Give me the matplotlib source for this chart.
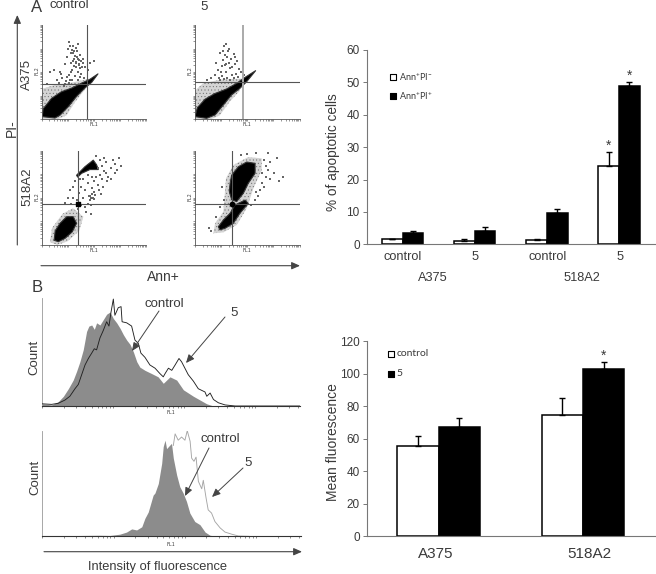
import numpy as np
import matplotlib
matplotlib.use('Agg')
from matplotlib import pyplot as plt
from matplotlib.patches import Polygon

plt.rcParams['font.family'] = ['Liberation Sans', 'DejaVu Sans']
plt.rcParams['mathtext.default'] = 'regular'
plt.rcParams['hatch.linewidth'] = 0.3

W, H = 656, 574
TEXT = '#3a3a3a'
AXIS = '#777777'

# bar charts
apop_groups = ['control', '5', 'control', '5']
apop_cells = ['A375', '518A2']
apop_early = [1.6, 1.0, 1.3, 24.2]
apop_early_err = [0.0, 0.6, 0.2, 4.3]
apop_late = [3.4, 4.0, 9.6, 49.0]
apop_late_err = [0.8, 1.3, 1.4, 1.0]
mean_cells = ['A375', '518A2']
mean_control = [55.5, 74.5]
mean_control_err = [6.5, 10.5]
mean_treated = [67.5, 103.0]
mean_treated_err = [5.0, 4.0]

# histograms, channel and count both in percent of the axes
top_ctrl_x = [0, 3.6, 6.2, 8.2, 10.1, 12, 13.3, 14.6, 15.9, 16.6, 17.2, 18.1, 19.2, 20.2, 21.1, 22.4, 23.7, 25,
              26.3, 27.6, 28.9, 30.2, 31.5, 32.8, 34.1, 35.4, 36.7, 37.9, 39.9, 42.5, 45, 47, 49.6, 52.2, 54.8,
              58.7, 63.9, 66.5, 100]
top_ctrl_y = [2, 1, 4, 9, 16, 24, 32, 41, 52, 61, 69, 74, 75, 71, 77, 75, 80, 85,
              87, 81, 77, 72, 66, 61, 57, 50, 41, 36, 33, 30, 27, 21, 27, 24, 15,
              9, 2, 0, 0]
top_treat_x = [0, 3.6, 6.2, 8.8, 10.7, 12.7, 14, 15.3, 16.6, 17.9, 19.2, 20.2, 21.1, 22.4, 23.7, 25, 25.9, 26.7,
               27.6, 28.2, 29.5, 30.6, 31, 32.8, 34.7, 36, 37.3, 38.3, 39.9, 41.8, 43.8, 45.7, 47, 47.7, 49, 50.3,
               51.6, 53.1, 54.1, 55.4, 56.7, 58.7, 60.6, 63.2, 63.9, 65.2, 66.5, 68.4, 71, 74.9, 100]
top_treat_y = [2, 1.5, 2.5, 5.5, 9, 16, 20, 29, 38, 44, 49, 53, 52, 63, 70, 78, 74, 87,
               99, 84, 91, 92, 78, 77, 74, 61, 58, 49, 45, 38, 35, 30, 27, 30, 35, 33,
               38, 44, 41, 35, 29, 23, 16, 13, 9, 12, 6, 3, 1, 0, 0]
low_ctrl_x = [0, 8, 15, 22, 26.2, 30, 32.6, 34.6, 36.5, 38.5, 39.7, 41, 42.3, 42.9, 43.6, 44.9, 46.2, 46.8, 47.5,
              48.1, 49.2, 50, 50.7, 52, 53.2, 54.5, 55.8, 57.1, 59, 61, 63, 64.9, 67.5, 100]
low_ctrl_y = [0, 0.5, 0.8, 1, 0.8, 2, 4, 7, 6, 9, 17, 23, 34, 39, 41, 50, 69, 85, 91,
              83, 86, 88, 74, 58, 47, 41, 33, 22, 14, 11, 4, 1, 0, 0]
low_treat_x = [50.7, 51.4, 52.6, 53.9, 55.2, 56.1, 57.2, 57.8, 58.7, 59.5, 60.4, 61.7, 62.3, 63.4, 64.2, 65.5,
               66.8, 68.8, 70.7, 73.3, 75.9, 80]
low_treat_y = [86, 97, 91, 94, 91, 100, 90, 74, 71, 75, 52, 45, 53, 36, 25, 22,
               14, 8, 4, 2, 0.3, 0]

# dot plots: outlines of the dense populations and the single events read by eye, percent of the axes
a375_ctrl_core = [(0.6, 2.5), (1.6, 11), (9.6, 22), (19, 29), (29, 33), (38, 38), (46, 42), (54, 48), (48, 39),
                  (41.5, 33), (33.5, 24), (25.5, 13), (17.6, 4), (12.8, 1)]
a375_ctrl_halo = [(0, 0), (0, 32), (12, 36), (30, 39), (46, 43), (42, 32), (32, 18), (24, 4), (16, 0)]
a375_ctrl_dots = [(18, 50), (22, 58), (24, 66), (26, 47), (28, 70), (30, 62), (31, 56), (32, 67), (33, 60), (34, 72),
                  (35, 64), (36, 58), (37, 68), (38, 62), (39, 55), (25, 74), (27, 78), (29, 52), (31, 64), (33, 76),
                  (35, 50), (37, 45), (40, 60), (42, 55), (20, 44), (23, 40), (26, 38), (29, 42), (32, 46), (35, 42),
                  (38, 48), (41, 44), (44, 52), (17, 38), (21, 35), (24, 45), (28, 60), (30, 70), (34, 66), (36, 57),
                  (26, 82), (29, 73), (33, 61), (37, 54), (40, 64), (15, 42), (19, 48), (8, 50), (12, 52), (5, 37),
                  (46, 60), (50, 62), (22, 37), (27, 41), (31, 72), (35, 80), (30, 78), (36, 63), (33, 55), (28, 50)]
a375_treat_core = [(0.3, 2.5), (2.5, 12), (9.8, 21), (19, 27), (30.5, 32), (40, 38), (48, 44.3), (58, 51.4),
                   (49.5, 39.7), (43, 32.6), (35, 25.5), (27.3, 14.9), (19.4, 4.3), (11.4, 0.7)]
a375_treat_halo = [(0, 0), (0, 30), (8, 38), (25, 42), (45, 43), (43, 30), (33, 18), (24, 4), (16, 0)]
a375_treat_dots = [(20, 60), (22, 52), (24, 70), (26, 46), (27, 63), (28, 78), (29, 57), (30, 50), (31, 66), (32, 72),
                   (33, 60), (34, 54), (35, 64), (36, 47), (37, 69), (38, 58), (39, 48), (40, 62), (42, 53), (30, 80),
                   (26, 56), (23, 44), (19, 47), (16, 44), (12, 42), (28, 43), (31, 44), (34, 42), (37, 44), (41, 45),
                   (44, 50), (47, 47), (25, 50), (29, 68), (33, 74), (27, 72), (36, 55), (38, 66), (30, 58), (24, 42)]
mel_ctrl_core = [(12, 5), (13, 15), (17.6, 23), (24, 30), (30.3, 30), (33.5, 23), (29.4, 14), (22.4, 7), (16, 3.5)]
mel_ctrl_halo = [(8, 3), (10, 18), (20, 33), (30, 39), (40, 30), (36, 15), (25, 4), (15, 0)]
mel_ctrl_spot = [(33.5, 74), (41.5, 83), (49.5, 90), (52.7, 85), (54.3, 80), (46.3, 80), (38.3, 76), (34.5, 72)]
mel_ctrl_dots = [(22, 45), (25, 50), (27, 58), (30, 62), (32, 68), (34, 48), (36, 55), (38, 62), (40, 50), (42, 58),
                 (44, 66), (46, 52), (48, 60), (50, 68), (52, 72), (54, 64), (56, 74), (58, 84), (60, 78), (62, 88),
                 (64, 72), (66, 82), (68, 90), (70, 86), (72, 80), (74, 92), (76, 84), (60, 92), (56, 90), (52, 94),
                 (48, 72), (50, 56), (44, 44), (47, 42), (42, 40), (38, 42), (35, 38), (45, 52), (49, 50), (50, 49),
                 (46, 48), (47, 50), (48, 54), (51, 53), (40, 70), (37, 70), (44, 74), (30, 50), (28, 44), (54, 82),
                 (58, 70), (62, 76), (66, 70), (70, 76), (55, 58), (59, 62), (63, 68), (57, 54), (43, 35), (47, 33)]
mel_treat_core = [(33.7, 65.4), (35.2, 74), (41.6, 83), (49.5, 88), (57.5, 86.6), (57.5, 76), (51, 65.4), (46.3, 54.8),
                  (40, 46), (35.2, 48), (33, 56.5)]
mel_treat_band = [(22.5, 19.4), (27.3, 26.5), (33.7, 33.6), (38.4, 42.4), (48, 47.7), (51, 44), (43, 33.6), (36.8, 23),
                  (28.9, 17.7), (24, 16)]
mel_treat_halo = [(17.8, 12.4), (19.4, 23), (27.3, 35.3), (29.8, 70.7), (36.8, 84.8), (51, 93.3), (63.8, 91.9),
                  (63.8, 79.5), (55.9, 60), (49.5, 38.9), (40, 21.2), (27.3, 13.4)]
mel_treat_dots = [(66, 90), (68, 84), (70, 80), (72, 88), (68, 72), (64, 66), (66, 62), (62, 58), (60, 52), (72, 70),
                  (76, 76), (80, 68), (84, 72), (78, 92), (70, 98), (58, 98), (26, 62), (28, 48), (24, 40), (20, 30),
                  (16, 15), (14, 18), (57, 48), (54, 42), (58, 56), (64, 76), (44, 95), (50, 96)]


def pixel_axes(fig, left, top, right, bottom, **kw):
    return fig.add_axes([left / W, 1 - bottom / H, (right - left) / W, (bottom - top) / H], **kw)


def log_ticks(ax, step, axis='x'):
    pos = []
    for d in range(5):
        for m in range(1, 10):
            p = step * (d + np.log10(m))
            if p <= 100:
                pos.append(p)
    if axis == 'x':
        ax.set_xticks(pos)
        ax.set_xticklabels([])
    else:
        ax.set_yticks(pos)
        ax.set_yticklabels([])


def dot_plot(fig, box, vgate, hgate, halos, cores, dots, vcolor='#555555', lw=0.8):
    ax = pixel_axes(fig, *box)
    ax.set_xlim(0, 100)
    ax.set_ylim(0, 100)
    for s in ['top', 'right']:
        ax.spines[s].set_visible(False)
    for s in ['left', 'bottom']:
        ax.spines[s].set_color('#555555')
        ax.spines[s].set_linewidth(0.6)
    log_ticks(ax, 25, 'x')
    log_ticks(ax, 25, 'y')
    ax.tick_params(length=1.2, width=0.4, color='#444444', pad=1)
    for h in halos:
        ax.add_patch(Polygon(h, closed=True, fc='#d4d4d4', ec='#666666', hatch='.....', lw=0, zorder=1))
    for c in cores:
        ax.add_patch(Polygon(c, closed=True, fc='black', ec='#333333', lw=0.8, joinstyle='round', zorder=2))
    xs, ys = zip(*dots)
    ax.scatter(xs, ys, s=1.0, c='#666666', marker='s', linewidths=0, zorder=2)
    ax.axvline(vgate, color=vcolor, lw=lw, zorder=3)
    ax.axhline(hgate, color='#555555', lw=0.8, zorder=3)
    return ax


def histogram(fig, box, fill_x, fill_y, line_x, line_y, line_color):
    ax = pixel_axes(fig, *box)
    ax.set_xlim(0, 100)
    ax.set_ylim(0, 100)
    for s in ['top', 'right']:
        ax.spines[s].set_visible(False)
    ax.spines['left'].set_color('#999999')
    ax.spines['left'].set_linewidth(0.6)
    ax.spines['bottom'].set_color('#333333')
    ax.spines['bottom'].set_linewidth(0.8)
    ax.fill_between(fill_x, fill_y, color='#8c8c8c', lw=0, zorder=2)
    ax.plot(line_x, line_y, color=line_color, lw=0.65, zorder=3)
    log_ticks(ax, 27.6, 'x')
    ax.set_yticks([])
    ax.tick_params(length=1.5, width=0.4, color='#333333')
    return ax


def bar_chart(fig, box, n, ymax, ystep, low, low_err, high, high_err, stars):
    ax = pixel_axes(fig, *box)
    x = np.arange(n) + 0.5
    width = 0.287
    err = dict(ecolor='black', elinewidth=1, capsize=2, capthick=1)
    ax.bar(x - width / 2, low, width, color='white', edgecolor='black', lw=1.1,
           yerr=[np.zeros(n), low_err], error_kw=err)
    ax.bar(x + width / 2, high, width, color='black', edgecolor='black', lw=1.1,
           yerr=[np.zeros(n), high_err], error_kw=err)
    ax.set_xlim(0, n)
    ax.set_ylim(0, ymax)
    ax.set_xticks([])
    ax.set_yticks(np.arange(0, ymax + 1, ystep))
    ax.tick_params(axis='y', length=3, width=0.7, color=AXIS, labelsize=8.5, labelcolor=TEXT, pad=2)
    for s in ['top', 'right']:
        ax.spines[s].set_visible(False)
    for s in ['left', 'bottom']:
        ax.spines[s].set_color(AXIS)
        ax.spines[s].set_linewidth(0.8)
    for i, series, e in stars:
        shift = -width / 2 if series == 0 else width / 2
        v = (low if series == 0 else high)[i] + (low_err if series == 0 else high_err)[i]
        ax.text(i + 0.5 + shift, v - ymax * 0.002, '*', ha='center', va='bottom', fontsize=10, color=TEXT)
    return ax


fig = plt.figure(figsize=(W / 100, H / 100), dpi=100)

panels = [
    ((41.6, 25, 146, 119), 43.8, 37.2, [a375_ctrl_halo], [a375_ctrl_core], a375_ctrl_dots, '#555555', 0.8),
    ((194.7, 25, 299.7, 119), 45.7, 39.4, [a375_treat_halo], [a375_treat_core], a375_treat_dots, '#aaaaaa', 1.4),
    ((41.6, 150.7, 146, 245), 35.1, 43.1, [mel_ctrl_halo], [mel_ctrl_core, mel_ctrl_spot], mel_ctrl_dots, '#555555', 0.8),
    ((194.7, 150.7, 299.7, 245), 35.9, 43.8, [mel_treat_halo], [mel_treat_core, mel_treat_band], mel_treat_dots, '#555555', 0.8),
]
dot_axes = [dot_plot(fig, *p) for p in panels]
dot_axes[2].scatter([35.1], [43.1], s=8, c='black', marker='s', zorder=4)
dot_axes[3].scatter([35.9], [43.8], s=10, c='black', marker='o', zorder=4)

histogram(fig, (42.3, 298, 299.7, 406), top_ctrl_x, top_ctrl_y, top_treat_x, top_treat_y, '#222222')
histogram(fig, (42.3, 430.7, 300.7, 536.3), low_ctrl_x, low_ctrl_y, low_treat_x, low_treat_y, '#a5a5a5')

ax1 = bar_chart(fig, (366.7, 50, 655, 244.3), 4, 60, 10, apop_early, apop_early_err, apop_late, apop_late_err,
                [(3, 0, 0), (3, 1, 0)])
ax2 = bar_chart(fig, (366.7, 341.3, 655, 536.3), 2, 120, 20, mean_control, mean_control_err, mean_treated,
                mean_treated_err, [(1, 1, 0)])

# everything else is placed in picture pixels on a clear axes over the top
ov = fig.add_axes([0, 0, 1, 1], facecolor='none')
ov.set_xlim(0, W)
ov.set_ylim(H, 0)
ov.axis('off')


def label(x, y, s, size=9.5, rot=0, ha='center', **kw):
    ov.text(x, y, s, fontsize=size, rotation=rot, ha=ha, va='center', color=TEXT, **kw)


def arrow(x0, y0, x1, y1, lw=0.7, head=1.0):
    ov.annotate('', xy=(x1, y1), xytext=(x0, y0),
                arrowprops=dict(arrowstyle='-|>,head_length=%.2f,head_width=%.2f' % (0.5 * head, 0.22 * head),
                                color='#444444', lw=lw, shrinkA=0, shrinkB=0))


label(37, 7, 'A', 12)
label(69.5, 5, 'control', 9.5)
label(204, 7, '5', 9.5)
label(27, 75, 'A375', 9.5, 90)
label(27, 187, '518A2', 9.5, 90)
label(12, 128, 'PI-', 10, 90)
label(163, 277, 'Ann+', 10)
arrow(17.3, 245, 17.3, 15, 0.8)
arrow(41, 265.7, 300, 265.7, 0.8)

for x, y in [(93.7, 124), (247, 124), (93.7, 250), (247, 250), (170.7, 413), (171, 544)]:
    label(x, y, 'FL1', 3.5, family='DejaVu Sans Mono')
for x, y in [(37, 71), (190, 71), (37, 197), (190, 197)]:
    label(x, y, 'FL2', 3.5, 90, family='DejaVu Sans Mono')

label(37, 288, 'B', 12)
label(34, 357, 'Count', 9.5, 90)
label(35, 477, 'Count', 9.5, 90)
label(164, 304, 'control', 9.5)
label(234, 313, '5', 9.5)
label(220, 439, 'control', 9.5)
label(248, 463, '5', 9.5)
arrow(159, 311, 132, 351)
arrow(225, 317, 186, 363)
arrow(209, 448, 185, 496)
arrow(243, 468, 212, 497)
arrow(44, 551.7, 302, 551.7, 0.8)
label(158, 567, 'Intensity of fluorescence', 9.3)

# bar chart captions
label(333, 152, '% of apoptotic cells', 9.8, 90)
for cx, name in zip([403, 475, 548, 620], apop_groups):
    label(cx, 257, name, 9.2)
for cx, name in zip([433, 582], apop_cells):
    label(cx, 278, name, 9.2)
ov.scatter([393], [77], s=22, marker='s', fc='white', ec='black', lw=0.8)
ov.scatter([393], [96], s=22, marker='s', fc='black', ec='black', lw=0.8)
ov.text(399, 77, 'Ann$^{+}$PI$^{-}$', fontsize=6.5, va='center', color=TEXT, family='Lato')
ov.text(399, 96, 'Ann$^{+}$PI$^{+}$', fontsize=6.5, va='center', color=TEXT, family='Lato')

label(333, 442, 'Mean fluorescence', 10, 90)
for cx, name in zip([436, 589], mean_cells):
    label(cx, 554, name, 11)
ov.scatter([390.7], [354], s=22, marker='s', fc='white', ec='black', lw=0.8)
ov.scatter([390.7], [373.7], s=22, marker='s', fc='black', ec='black', lw=0.8)
ov.text(396.5, 354, 'control', fontsize=7.5, va='center', color=TEXT, family='Lato')
ov.text(396.5, 373.7, '5', fontsize=7.5, va='center', color=TEXT, family='Lato')

fig.savefig('out.png', dpi=100)
